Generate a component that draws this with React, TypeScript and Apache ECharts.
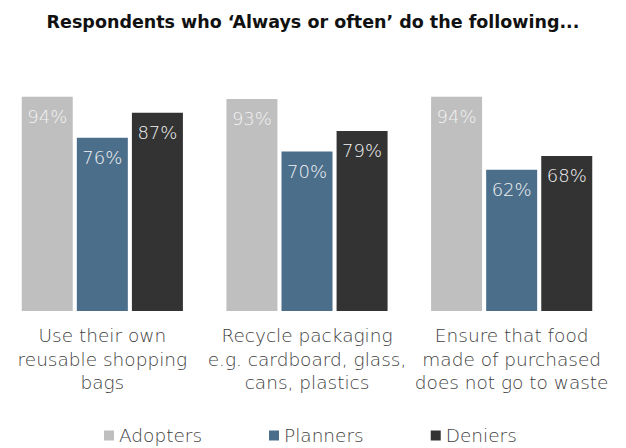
import React, { useEffect, useRef } from "react";
import * as echarts from "echarts";

const categories = [
  "Use their own\nreusable shopping\nbags",
  "Recycle packaging\ne.g. cardboard, glass,\ncans, plastics",
  "Ensure that food\nmade of purchased\ndoes not go to waste",
];
const seriesNames = ["Adopters", "Planners", "Deniers"];
const adopters = [94, 93, 94];
const planners = [76, 70, 62];
const deniers = [87, 79, 68];
const colors = ["#bfbfbf", "#4b6e8b", "#333333"];
const titleText = "Respondents who \u2018Always or often\u2019 do the following...";

const FONT = "'DejaVu Sans', sans-serif";

export default function App() {
  const ref = useRef<HTMLDivElement>(null);
  useEffect(() => {
    if (!ref.current) return;
    const chart = echarts.init(ref.current, null, { renderer: "svg" });
    const values = [adopters, planners, deniers];
    chart.setOption({
      animation: false,
      title: {
        text: titleText,
        left: "center",
        top: 8,
        textStyle: { fontFamily: FONT, fontSize: 17.5, fontWeight: 700, color: "#111" },
      },
      legend: {
        data: seriesNames,
        left: 104,
        top: 426,
        padding: 0,
        icon: "rect",
        itemWidth: 10,
        itemHeight: 10,
        itemGap: 67,
        textStyle: { fontFamily: FONT, fontSize: 18.5, fontWeight: 200, color: "#404040" },
      },
      grid: { left: 0, right: 12, top: 83, bottom: 137, containLabel: false },
      xAxis: {
        type: "category",
        data: categories,
        axisLine: { show: false },
        axisTick: { show: false },
        axisLabel: {
          interval: 0,
          margin: 13,
          fontFamily: FONT,
          fontSize: 18.5,
          fontWeight: 200,
          lineHeight: 23.5,
          color: "#404040",
        },
      },
      yAxis: { type: "value", min: 0, max: 100, show: false, splitLine: { show: false } },
      series: seriesNames.map((name, i) => ({
        name,
        type: "bar",
        data: values[i],
        barWidth: 51,
        barGap: "8%",
        itemStyle: { color: colors[i] },
        label: {
          show: true,
          position: "insideTop",
          distance: 11,
          formatter: "{c}%",
          fontFamily: FONT,
          fontSize: 18,
          fontWeight: 200,
          color: "#f2f2f2",
        },
      })),
    });
    return () => chart.dispose();
  }, []);
  return (
    <div
      ref={ref}
      style={{ position: "absolute", left: 0, top: 0, width: 626, height: 448 }}
    />
  );
}
